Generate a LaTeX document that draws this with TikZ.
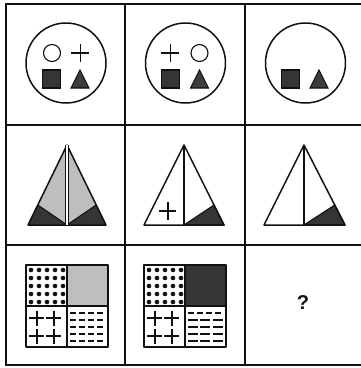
\documentclass[tikz,border=0pt]{standalone}
\usepackage{fontspec}
\usepackage{tikz}
\usetikzlibrary{calc}
\newfontfamily\qfont{Liberation Sans}
\definecolor{inkBlack}{HTML}{111111}
\definecolor{stoneDark}{HTML}{353535}
\definecolor{stoneMid}{HTML}{3C3C3C}
\definecolor{stoneLight}{HTML}{BEBEBE}
\tikzset{
  gridline/.style = {draw=inkBlack, line width=1.7pt, line cap=rect},
  outline/.style  = {draw=inkBlack, line width=1.5pt, line join=round},
  thin/.style     = {draw=inkBlack, line width=1.1pt},
  heavy/.style    = {draw=inkBlack, line width=1.8pt},
  darkpatch/.style  = {fill=stoneDark},
  midpatch/.style   = {fill=stoneMid},
  lightpatch/.style = {fill=stoneLight},
  dashbar/.style  = {draw=inkBlack, line width=1.4pt},
  qmark/.style    = {font=\qfont\bfseries\fontsize{20pt}{22pt}\selectfont, text=inkBlack}
}

\begin{document}
\begin{tikzpicture}[x=1pt, y=-1pt]
  \useasboundingbox (0,0) rectangle (361,368);
  \fill[white] (0,0) rectangle (361,368);

  % grid of nine cells
  \draw[gridline] (361,4) -- (6,4) -- (6,365) -- (361,365);
  \foreach \x in {125,245} \draw[gridline] (\x,4) -- (\x,365);
  \foreach \y in {125,245} \draw[gridline] (6,\y) -- (361,\y);

  % row 1: circles
  \foreach \cx in {66,185.5,305.5} \draw[outline] (\cx,63) circle[radius=40pt];
  \draw[thin] (52,53) circle[radius=8.5pt];
  \draw[heavy] (71.5,53) -- (89.5,53) (80.5,44) -- (80.5,62);
  \draw[heavy] (161.5,53) -- (179.5,53) (170.5,44) -- (170.5,62);
  \draw[thin] (199.5,53) circle[radius=8.5pt];
  \foreach \sx/\tx in {51.5/80, 170.5/199.5, 290.5/319} {
    \filldraw[darkpatch, thin] (\sx-9,70) rectangle (\sx+9,88);
    \filldraw[midpatch, thin] (\tx-9,88) -- (\tx,70) -- (\tx+9,88) -- cycle;
  }

  % row 2: pyramids
  \coordinate (apexA) at (67,145);
  \coordinate (leftA) at (28,225);
  \coordinate (rightA) at (106,225);
  \coordinate (midA) at (67,225);
  \coordinate (sideLA) at (37.8,205);
  \coordinate (sideRA) at (96.2,205);
  \fill[lightpatch] (apexA) -- (sideLA) -- (midA) -- cycle;
  \fill[lightpatch] (apexA) -- (sideRA) -- (midA) -- cycle;
  \fill[darkpatch] (leftA) -- (sideLA) -- (midA) -- cycle;
  \fill[darkpatch] (midA) -- (sideRA) -- (rightA) -- cycle;
  \draw[thin] (sideLA) -- (midA) -- (sideRA);
  \draw[outline] (apexA) -- (leftA) -- (rightA) -- cycle;
  \draw[inkBlack, line width=1.2pt, double=white, double distance=1.8pt] (apexA) -- (midA);

  \coordinate (apexB) at (184,145);
  \coordinate (leftB) at (144,225);
  \coordinate (rightB) at (224,225);
  \coordinate (midB) at (184,225);
  \coordinate (sideRB) at (214,205);
  \filldraw[darkpatch, thin] (midB) -- (sideRB) -- (rightB) -- cycle;
  \draw[outline] (apexB) -- (leftB) -- (rightB) -- cycle;
  \draw[thin] (apexB) -- (midB);
  \draw[heavy] (159.5,211) -- (176.5,211) (168,202) -- (168,220);

  \coordinate (apexC) at (304,145);
  \coordinate (leftC) at (264,225);
  \coordinate (rightC) at (345,225);
  \coordinate (midC) at (304,225);
  \coordinate (sideRC) at (334.8,205);
  \filldraw[darkpatch, thin] (midC) -- (sideRC) -- (rightC) -- cycle;
  \draw[outline] (apexC) -- (leftC) -- (rightC) -- cycle;
  \draw[thin] (apexC) -- (midC);

  % row 3: squares of four
  \foreach \ox/\shade in {26/lightpatch, 144/darkpatch} {
    \fill[\shade] (\ox+41,265) rectangle (\ox+82,306);
    \foreach \i in {0,...,4}
      \foreach \j in {0,...,4}
        \fill[inkBlack] (\ox+5+8*\i,270+8*\j) circle[radius=2.3pt];
    \foreach \px in {11,28}
      \foreach \py in {318,336}
        \draw[heavy] (\ox+\px-7.5,\py) -- (\ox+\px+7.5,\py) (\ox+\px,\py-7.5) -- (\ox+\px,\py+7.5);
    \draw[outline] (\ox,265) rectangle (\ox+82,347);
    \draw[outline] (\ox+41,265) -- (\ox+41,347) (\ox,306) -- (\ox+82,306);
  }
  \foreach \r in {0,...,4}
    \foreach \k in {0,...,3}
      \draw[dashbar] (70+9*\k,313+7*\r) -- (76.5+9*\k,313+7*\r);
  \foreach \k in {0,...,3}
    \draw[dashbar] (188+9*\k,313) -- (194.5+9*\k,313);
  \foreach \r in {1,...,4}
    \foreach \k in {0,...,2}
      \draw[dashbar] (188+12.3*\k,313+7*\r) -- (198+12.3*\k,313+7*\r);

  \node[qmark] (missing) at (303,303) {?};
\end{tikzpicture}
\end{document}
